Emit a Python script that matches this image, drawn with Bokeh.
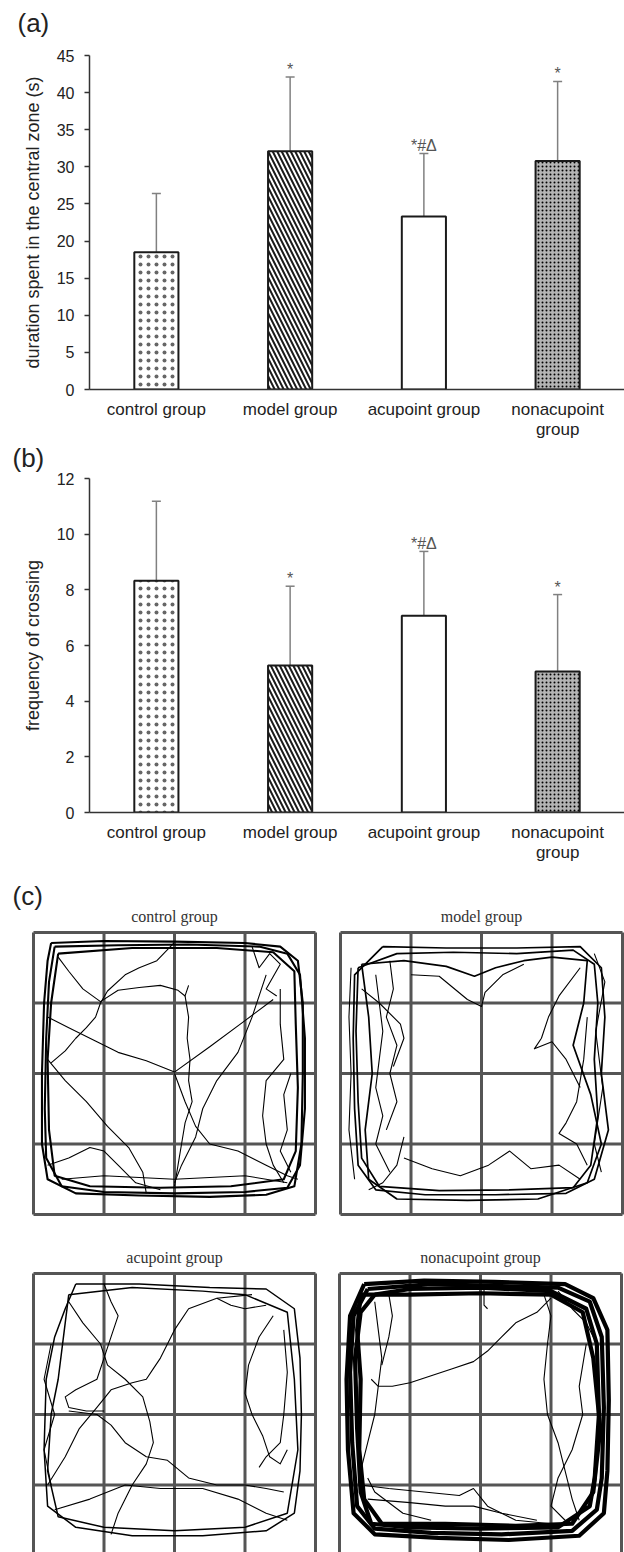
import numpy as np
from bokeh.plotting import figure
from bokeh.models import Range1d, Whisker, ColumnDataSource, FixedTicker, TeeHead
from bokeh.layouts import column
from bokeh.embed import file_html
from bokeh.resources import INLINE
from bokeh.core.properties import value

# ---------------- data ----------------
group_names = ["control group", "model group", "acupoint group", "nonacupoint group"]
axis_labels = ["control group", "model group", "acupoint group", "nonacupoint\ngroup"]
duration_mean = [18.5, 32.1, 23.3, 30.8]
duration_sd = [7.9, 10.0, 8.5, 10.7]
crossing_mean = [8.33, 5.28, 7.07, 5.07]
crossing_sd = [2.85, 2.85, 2.31, 2.76]
significance = ["", "*", "*#\u0394", "*"]
duration_ticks = [0, 5, 10, 15, 20, 25, 30, 35, 40, 45]
crossing_ticks = [0, 2, 4, 6, 8, 10, 12]
panel_tags = ["(a)", "(b)", "(c)"]

# open-field tracks, arena units (4 x 4 squares), x to the right, y downward
control_loops = [
    [(0.25,0.15),(1.0,0.12),(2.0,0.13),(3.0,0.15),(3.5,0.2),(3.75,0.4),(3.82,1.0),(3.82,2.0),(3.8,3.0),(3.7,3.6),(3.3,3.72),(2.5,3.75),(1.5,3.73),(0.6,3.7),(0.2,3.5),(0.12,3.0),(0.12,2.0),(0.15,1.0),(0.2,0.4),(0.25,0.15)],
    [(0.3,0.2),(1.2,0.18),(2.2,0.17),(3.2,0.2),(3.6,0.3),(3.78,0.6),(3.85,1.5),(3.85,2.5),(3.78,3.3),(3.6,3.62),(3.0,3.68),(2.0,3.7),(1.0,3.68),(0.4,3.6),(0.18,3.2),(0.16,2.5),(0.18,1.5),(0.22,0.7),(0.3,0.2)],
    [(0.35,0.3),(1.4,0.22),(2.6,0.22),(3.4,0.28),(3.7,0.55),(3.72,1.3),(3.75,2.2),(3.72,3.1),(3.55,3.5),(2.8,3.6),(1.8,3.62),(0.8,3.6),(0.3,3.45),(0.22,2.8),(0.2,1.8),(0.25,1.0),(0.35,0.3)],
]
control_paths = [
    [(2.0,0.14),(1.75,0.4),(1.5,0.5),(1.3,0.6),(1.05,0.83),(0.95,1.0),(0.88,1.2),(0.75,1.35),(0.6,1.5),(0.45,1.68),(0.25,1.85)],
    [(0.2,1.2),(0.5,1.35),(0.9,1.55),(1.2,1.7),(1.6,1.82),(2.0,1.98),(2.5,1.62),(3.0,1.25),(3.4,0.95)],
    [(0.35,0.35),(0.5,0.55),(0.7,0.8),(0.95,0.98),(1.2,0.82),(1.5,0.78),(1.8,0.75),(2.05,0.82),(2.15,0.9),(2.2,0.75)],
    [(2.15,0.9),(2.2,1.2),(2.18,1.5),(2.22,1.8),(2.2,2.1),(2.25,2.4),(2.15,2.7),(2.1,3.0),(2.05,3.3),(2.0,3.6)],
    [(0.2,1.8),(0.45,2.1),(0.75,2.4),(1.05,2.75),(1.35,3.05),(1.55,3.4),(1.6,3.7)],
    [(2.0,2.0),(2.15,2.4),(2.3,2.75),(2.5,3.0),(2.9,3.1),(3.3,3.3),(3.6,3.45),(3.75,3.5)],
    [(3.3,0.6),(3.1,1.2),(2.9,1.7),(2.6,2.1),(2.4,2.5),(2.3,2.9),(2.1,3.3),(2.0,3.55)],
    [(3.5,0.8),(3.5,1.3),(3.55,1.8),(3.3,2.1),(3.25,2.6),(3.3,3.0),(3.4,3.3),(3.55,3.55)],
    [(0.2,3.3),(0.5,3.2),(0.8,3.05),(1.0,3.1),(1.2,3.3),(1.45,3.55),(1.8,3.65)],
    [(3.65,2.0),(3.55,2.3),(3.6,2.8),(3.5,3.1),(3.65,3.4)],
    [(3.1,0.2),(3.2,0.5),(3.35,0.3),(3.5,0.45),(3.3,0.8),(3.45,0.9)],
    [(0.4,3.5),(1.0,3.45),(2.0,3.5),(3.0,3.45),(3.6,3.55)],
]
model_loops = [
    [(0.6,0.2),(1.5,0.22),(2.5,0.22),(3.4,0.2),(3.7,0.5),(3.75,1.2),(3.7,2.0),(3.8,2.8),(3.6,3.5),(3.2,3.7),(2.2,3.72),(1.2,3.72),(0.5,3.65),(0.25,3.3),(0.2,2.5),(0.18,1.5),(0.2,0.6),(0.6,0.2)],
    [(0.25,0.5),(0.8,0.3),(1.6,0.28),(2.5,0.3),(3.3,0.25),(3.6,0.45),(3.65,1.0),(3.6,1.8),(3.65,2.6),(3.55,3.3),(3.3,3.62),(2.4,3.65),(1.4,3.66),(0.55,3.6),(0.3,3.2),(0.25,2.4),(0.22,1.4),(0.25,0.5)],
    [(0.3,0.45),(0.9,0.4),(1.5,0.48),(1.9,0.62),(2.2,0.5),(2.6,0.4),(3.0,0.35),(3.5,0.4),(3.45,1.0),(3.3,1.6),(3.55,2.3),(3.7,3.0),(3.5,3.55),(2.8,3.78),(1.8,3.8),(0.8,3.78),(0.4,3.5),(0.35,2.8),(0.45,2.0),(0.4,1.2),(0.3,0.45)],
]
model_paths = [
    [(0.5,0.6),(0.55,1.0),(0.6,1.4),(0.55,1.8),(0.5,2.2),(0.6,2.6),(0.5,3.0),(0.7,3.4)],
    [(0.7,0.4),(0.75,0.8),(0.65,1.2),(0.8,1.6),(0.7,2.0),(0.8,2.4),(0.65,2.8)],
    [(1.0,0.6),(1.4,0.62),(1.8,0.95),(2.0,1.05),(2.05,0.85),(2.3,0.6),(2.6,0.45)],
    [(3.4,0.5),(3.1,0.9),(2.95,1.2),(2.85,1.5),(2.75,1.65),(3.0,1.55),(3.2,1.8),(3.4,2.2)],
    [(3.5,1.2),(3.45,1.8),(3.35,2.4),(3.2,2.7),(3.1,2.85),(3.35,3.0),(3.5,3.3)],
    [(0.9,3.2),(1.3,3.35),(1.7,3.45),(2.1,3.3),(2.4,3.1),(2.7,3.35),(3.1,3.3),(3.4,3.5)],
    [(0.9,2.9),(0.8,3.3),(0.6,3.55),(0.4,3.65)],
    [(0.3,0.8),(0.55,1.0),(0.85,1.3),(0.9,1.5),(0.75,1.9)],
    [(0.15,0.5),(0.12,1.2),(0.15,2.0),(0.12,2.8),(0.2,3.5)],
    [(3.6,0.3),(3.75,0.7),(3.62,1.4),(3.72,2.2),(3.6,3.0),(3.7,3.4)],
]
acupoint_loops = [
    [(0.6,0.15),(1.5,0.15),(2.5,0.2),(3.3,0.22),(3.7,0.5),(3.78,1.2),(3.8,2.0),(3.78,2.8),(3.7,3.4),(3.3,3.65),(2.4,3.72),(1.4,3.72),(0.6,3.6),(0.2,3.3),(0.15,2.5),(0.18,1.5),(0.3,0.9),(0.45,0.5),(0.6,0.15)],
    [(0.5,0.3),(1.4,0.2),(2.4,0.25),(3.0,0.3),(3.6,0.55),(3.7,1.5),(3.75,2.5),(3.6,3.4),(3.0,3.6),(2.0,3.65),(1.0,3.6),(0.35,3.45),(0.2,2.8),(0.25,2.0),(0.35,1.5),(0.5,0.3)],
]
acupoint_paths = [
    [(0.5,0.4),(0.7,0.7),(0.95,1.0),(1.05,1.3),(1.3,1.5),(1.55,1.75),(1.65,2.1),(1.7,2.4),(1.6,2.7),(1.4,3.0),(1.2,3.4),(1.1,3.7)],
    [(1.0,0.15),(1.1,0.4),(1.2,0.6),(1.1,0.9),(1.0,1.2),(0.9,1.5),(0.6,1.65),(0.45,1.75),(0.5,1.9),(0.75,1.95),(1.0,1.95)],
    [(3.1,0.3),(2.6,0.35),(2.2,0.5),(2.0,0.8),(1.8,1.2),(1.7,1.35),(1.6,1.5),(1.4,1.55),(1.1,1.65),(0.9,1.9),(0.65,2.2),(0.45,2.6),(0.2,3.0)],
    [(0.5,1.95),(0.9,2.0),(1.1,2.15),(1.3,2.4),(1.6,2.6),(1.9,2.65),(2.2,2.9),(2.6,3.0),(3.0,3.0),(3.3,3.05),(3.55,3.1)],
    [(0.3,3.35),(0.8,3.2),(1.3,3.0),(1.8,3.05),(2.4,3.05),(2.9,3.2),(3.3,3.4),(3.6,3.5)],
    [(3.4,0.6),(3.2,0.9),(3.05,1.3),(3.0,1.7),(3.1,2.0),(3.25,2.3),(3.35,2.6),(3.5,2.7),(3.6,2.5)],
    [(3.55,0.8),(3.6,1.4),(3.55,2.0),(3.5,2.4),(3.3,2.6),(3.2,2.75)],
    [(2.6,0.35),(2.8,0.45),(3.0,0.5),(3.3,0.45)],
    [(0.25,1.0),(0.15,1.5),(0.3,2.0),(0.15,2.5),(0.25,3.0)],
]
nonacupoint_loops = [
    [(0.35,0.15),(1.2,0.1),(2.2,0.12),(3.2,0.15),(3.6,0.35),(3.8,0.8),(3.82,1.8),(3.8,2.8),(3.75,3.4),(3.4,3.72),(2.4,3.78),(1.4,3.75),(0.5,3.7),(0.2,3.4),(0.12,2.5),(0.1,1.5),(0.15,0.6),(0.35,0.15)],
    [(0.4,0.22),(1.3,0.15),(2.3,0.18),(3.1,0.2),(3.55,0.4),(3.72,0.9),(3.75,1.9),(3.72,2.9),(3.65,3.35),(3.3,3.65),(2.3,3.7),(1.3,3.68),(0.5,3.62),(0.25,3.3),(0.18,2.4),(0.15,1.4),(0.2,0.6),(0.4,0.22)],
    [(0.5,0.3),(1.0,0.22),(2.0,0.2),(3.0,0.25),(3.5,0.5),(3.65,1.0),(3.68,2.0),(3.62,2.9),(3.55,3.3),(3.1,3.6),(2.0,3.62),(1.0,3.6),(0.45,3.55),(0.3,3.1),(0.25,2.2),(0.22,1.2),(0.3,0.55),(0.5,0.3)],
    [(0.3,0.3),(0.25,0.8),(0.3,1.5),(0.28,2.5),(0.35,3.2),(0.6,3.55),(1.5,3.55),(2.5,3.58),(3.3,3.55),(3.6,3.1),(3.7,2.2),(3.6,1.2),(3.45,0.55),(3.0,0.3),(2.0,0.28),(1.0,0.3),(0.3,0.3)],
]
nonacupoint_paths = [
    [(3.0,0.35),(2.8,0.55),(2.5,0.7),(2.3,0.9),(2.1,1.1),(1.9,1.25),(1.6,1.35),(1.3,1.45),(1.0,1.55),(0.75,1.6),(0.55,1.6),(0.45,1.5)],
    [(0.5,0.4),(0.55,0.8),(0.6,1.2),(0.55,1.6),(0.5,2.0),(0.4,2.4),(0.3,2.8)],
    [(0.7,0.3),(0.75,0.6),(0.7,0.9),(0.6,1.3)],
    [(2.9,0.3),(3.0,0.6),(2.95,1.0),(2.9,1.5),(2.95,2.0),(3.1,2.4),(3.2,2.8),(3.3,3.2),(3.4,3.5)],
    [(3.5,1.0),(3.4,1.6),(3.45,2.0),(3.3,2.5),(3.1,2.9),(3.0,3.3),(3.2,3.5)],
    [(0.3,3.0),(0.7,3.05),(1.2,3.1),(1.7,3.15),(1.9,3.05),(2.1,3.3),(2.5,3.5),(3.0,3.55)],
    [(0.4,3.2),(1.0,3.25),(1.5,3.3),(1.9,3.3),(2.3,3.4),(2.8,3.5)],
    [(0.4,2.9),(0.5,3.1),(0.9,3.4),(1.3,3.5)],
    [(2.05,0.2),(2.05,0.45),(2.1,0.5)],
    [(3.1,0.25),(3.3,0.5),(3.5,0.7),(3.6,0.9)],
]

# ---------------- style ----------------
SANS = "Liberation Sans"
SERIF = "Liberation Serif"
BAR_PATTERNS = ["dot", "left_diagonal_line", "blank", "dot"]
BAR_HSCALE = [8, 9, 8, 4]
BAR_HWEIGHT = [0.8, 2.0, 1, 1.5]
BAR_HCOLOR = ["#666666", "#1a1a1a", "#1a1a1a", "#000000"]
BAR_FILL = ["white", "white", "white", "#b4b4b4"]
INK = "#1a1a1a"
ERR = "#808080"
FRAME_LEFT = 89
FIG_W = 624


def no_align(f):
    if "frame_align" in f.properties():
        f.frame_align = False


def blank_fig(height):
    f = figure(width=FIG_W, height=height, output_backend="svg", toolbar_location=None,
               x_range=Range1d(0, FIG_W), y_range=Range1d(height, 0),
               x_axis_location=None, y_axis_location=None,
               min_border=0, min_border_left=0, min_border_right=0,
               min_border_top=0, min_border_bottom=0)
    no_align(f)
    f.outline_line_color = None
    f.grid.visible = False
    return f


def add_tag(f, text, x, y):
    f.text(x=[x], y=[y], text=[text], text_baseline="top", text_align="left",
           text_font=value(SANS), text_font_size="26px", text_color="#222222")


def bar_panel(means, sds, ticks, ylabel, height, frame_top, frame_h):
    ymax = ticks[-1]
    p = figure(width=FIG_W, height=height, output_backend="svg", toolbar_location=None,
               x_range=Range1d(0.5, 4.5), y_range=Range1d(0, ymax),
               min_border_left=FRAME_LEFT, min_border_right=0, min_border_top=frame_top,
               min_border_bottom=height - frame_top - frame_h)
    no_align(p)
    p.outline_line_color = None
    p.grid.visible = False
    xs = [1, 2, 3, 4]
    upper = [m + s for m, s in zip(means, sds)]
    lower = [m - s for m, s in zip(means, sds)]
    src = ColumnDataSource(dict(x=xs, top=means, upper=upper, lower=lower, mark=significance,
                                pat=BAR_PATTERNS, hs=BAR_HSCALE, hw=BAR_HWEIGHT,
                                hc=BAR_HCOLOR, fc=BAR_FILL))
    p.vbar(x="x", top="top", bottom=0, width=0.33, source=src, fill_color="fc",
           line_color=INK, line_width=2, hatch_pattern="pat", hatch_scale="hs",
           hatch_weight="hw", hatch_color="hc")
    head = dict(size=9, line_color=ERR, line_width=1.5)
    p.add_layout(Whisker(base="x", upper="upper", lower="lower", source=src,
                         line_color=ERR, line_width=1.5,
                         upper_head=TeeHead(**head), lower_head=TeeHead(**head)))
    p.text(x="x", y="upper", text="mark", source=src, text_align="center",
           text_baseline="bottom", y_offset=1, text_font=value(SANS),
           text_font_size="16px", text_color="#555555")

    ya = p.yaxis[0]
    ya.ticker = FixedTicker(ticks=ticks)
    ya.axis_label = ylabel
    ya.axis_label_text_font = SANS
    ya.axis_label_text_font_style = "normal"
    ya.axis_label_text_font_size = "18px"
    ya.axis_label_text_color = "#222222"
    ya.axis_label_standoff = 11
    ya.major_label_text_font = SANS
    ya.major_label_text_font_size = "16px"
    ya.major_label_text_color = "#222222"
    ya.major_label_standoff = 10
    ya.major_tick_out = 5
    ya.major_tick_in = 0
    ya.minor_tick_line_color = None
    ya.axis_line_color = "#333333"
    ya.axis_line_width = 1.5
    ya.major_tick_line_color = "#333333"
    ya.major_tick_line_width = 1.5

    xa = p.xaxis[0]
    xa.ticker = FixedTicker(ticks=xs)
    xa.major_label_overrides = {i + 1: lab for i, lab in enumerate(axis_labels)}
    xa.major_label_text_font = SANS
    xa.major_label_text_font_size = "17px"
    xa.major_label_text_color = "#222222"
    xa.major_label_text_line_height = 1.1
    xa.major_label_standoff = 10
    xa.major_tick_out = 0
    xa.major_tick_in = 0
    xa.major_tick_line_color = None
    xa.minor_tick_line_color = None
    xa.axis_line_color = "#333333"
    xa.axis_line_width = 1.5
    return p


# header strip for (a): page rows 0..44
ta = blank_fig(44)
add_tag(ta, panel_tags[0], 17, 7)
# bar chart (a): page rows 44..442, plot frame rows 55..389
pa = bar_panel(duration_mean, duration_sd, duration_ticks,
               "duration spent in the central zone (s)", 398, 11, 334)
# header strip for (b): page rows 442..472
tb = blank_fig(30)
add_tag(tb, panel_tags[1], 12, 0)
# bar chart (b): page rows 472..870, plot frame rows 478..812
pb = bar_panel(crossing_mean, crossing_sd, crossing_ticks,
               "frequency of crossing", 398, 6, 334)

# ---------------- panel (c) ----------------
pc = blank_fig(682)
CELL = 70.5
arenas = [
    (group_names[0], 33, 62, control_loops, control_paths, 2.1),
    (group_names[1], 340, 62, model_loops, model_paths, 1.7),
    (group_names[2], 33, 403, acupoint_loops, acupoint_paths, 1.5),
    (group_names[3], 339, 403, nonacupoint_loops, nonacupoint_paths, 4.2),
]
for name, left, top, loops, paths, loop_w in arenas:
    gx0, gx1, gy0, gy1 = [], [], [], []
    for k in range(5):
        gx0 += [left + k * CELL, left]
        gx1 += [left + k * CELL, left + 4 * CELL]
        gy0 += [top, top + k * CELL]
        gy1 += [top + 4 * CELL, top + k * CELL]
    pc.segment(x0=gx0, y0=gy0, x1=gx1, y1=gy1, line_color="#555555", line_width=3)
    lx = [[left + u * CELL for u, v in path] for path in loops]
    ly = [[top + v * CELL for u, v in path] for path in loops]
    pc.multi_line(xs=lx, ys=ly, line_color="black", line_width=loop_w, line_join="round")
    px = [[left + u * CELL for u, v in path] for path in paths]
    py = [[top + v * CELL for u, v in path] for path in paths]
    pc.multi_line(xs=px, ys=py, line_color="black", line_width=1.1, line_join="round")
    pc.text(x=[left + 2 * CELL], y=[top - 8], text=[name], text_align="center",
            text_baseline="bottom", text_font=value(SERIF), text_font_size="16px",
            text_color="#333333")
add_tag(pc, panel_tags[2], 12, 10)

layout = column(ta, pa, tb, pb, pc, spacing=0)
open("out.html", "w").write(file_html(layout, INLINE))
